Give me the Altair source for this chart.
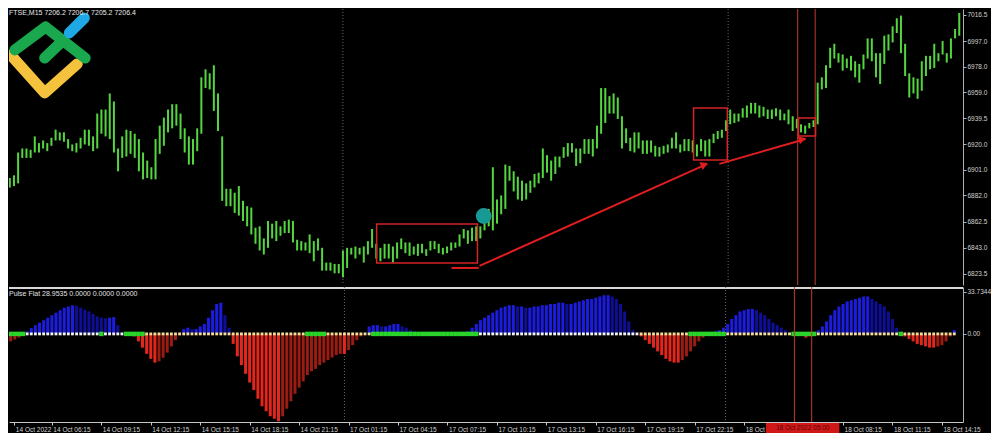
import json
import altair as alt
import pandas as pd

# ---------------- data ----------------
bar_high = [
    6899, 6895, 6895, 6897, 6914, 6917, 6917, 6916, 6926, 6921,
    6923, 6921, 6925, 6931, 6929, 6929, 6924, 6920, 6921, 6925,
    6931, 6931, 6926, 6943, 6946, 6946, 6958, 6952, 6917, 6926,
    6931, 6930, 6928, 6924, 6914, 6908, 6903, 6924, 6934, 6940,
    6946, 6950, 6950, 6943, 6932, 6926, 6924, 6932, 6970, 6976,
    6973, 6979, 6958, 6926, 6887, 6887, 6884, 6889, 6878, 6874,
    6873, 6858, 6859, 6850, 6863, 6861, 6863, 6859, 6863, 6864,
    6863, 6849, 6848, 6847, 6853, 6848, 6850, 6843, 6832, 6832,
    6831, 6831, 6841, 6843, 6843, 6844, 6843, 6844, 6848, 6857,
    6846, 6843, 6846, 6846, 6844, 6847, 6850, 6847, 6847, 6844,
    6846, 6846, 6842, 6848, 6848, 6846, 6843, 6844, 6847, 6847,
    6853, 6857, 6856, 6858, 6859, 6859, 6871, 6872, 6903, 6879,
    6882, 6905, 6904, 6900, 6896, 6893, 6891, 6893, 6898, 6899,
    6917, 6912, 6908, 6911, 6911, 6918, 6921, 6921, 6917, 6917,
    6924, 6924, 6924, 6934, 6962, 6962, 6956, 6958, 6955, 6941,
    6932, 6925, 6929, 6929, 6923, 6923, 6923, 6919, 6918, 6919,
    6920, 6925, 6929, 6920, 6924, 6924, 6923, 6920, 6924, 6923,
    6924, 6928, 6930, 6931, 6938, 6946, 6943, 6943, 6947, 6949,
    6951, 6951, 6949, 6948, 6946, 6946, 6947, 6946, 6943, 6946,
    6941, 6939, 6935, 6934, 6936, 6938, 6966, 6970, 6979, 6992,
    6995, 6988, 6987, 6984, 6986, 6982, 6980, 6987, 6999, 6999,
    6988, 6988, 7001, 7002, 7008, 7014, 7016, 6995, 6973, 6970,
    6969, 6982, 6986, 6986, 6995, 6988, 6997, 6988, 6999, 7006,
    7018,
]
bar_low = [
    6889, 6888, 6888, 6889, 6891, 6910, 6910, 6910, 6914, 6914,
    6917, 6915, 6919, 6923, 6923, 6922, 6917, 6915, 6914, 6917,
    6920, 6919, 6915, 6917, 6928, 6926, 6924, 6914, 6900, 6910,
    6911, 6913, 6910, 6900, 6894, 6895, 6894, 6894, 6913, 6919,
    6929, 6932, 6934, 6924, 6914, 6905, 6905, 6915, 6928, 6962,
    6961, 6945, 6930, 6878, 6874, 6874, 6869, 6867, 6863, 6859,
    6853, 6846, 6841, 6838, 6843, 6850, 6848, 6852, 6854, 6854,
    6847, 6841, 6841, 6841, 6839, 6833, 6841, 6826, 6826, 6826,
    6824, 6824, 6821, 6828, 6838, 6835, 6838, 6832, 6838, 6843,
    6835, 6833, 6835, 6835, 6832, 6835, 6842, 6839, 6837, 6838,
    6837, 6839, 6837, 6841, 6842, 6839, 6838, 6839, 6841, 6843,
    6844, 6850, 6846, 6848, 6848, 6850, 6856, 6859, 6856, 6861,
    6868, 6872, 6893, 6885, 6879, 6878, 6879, 6884, 6888, 6891,
    6895, 6899, 6893, 6898, 6903, 6910, 6911, 6914, 6904, 6906,
    6913, 6913, 6911, 6917, 6928, 6936, 6943, 6943, 6939, 6917,
    6921, 6915, 6914, 6917, 6913, 6913, 6914, 6911, 6911, 6913,
    6914, 6917, 6917, 6914, 6915, 6915, 6914, 6911, 6915, 6911,
    6911, 6921, 6924, 6925, 6930, 6935, 6936, 6937, 6940, 6940,
    6943, 6943, 6940, 6941, 6939, 6939, 6941, 6938, 6938, 6935,
    6930, 6932, 6929, 6928, 6932, 6933, 6935, 6961, 6962, 6977,
    6984, 6981, 6975, 6977, 6975, 6970, 6966, 6976, 6984, 6982,
    6970, 6965, 6980, 6990, 6996, 7003, 6988, 6971, 6955, 6958,
    6954, 6960, 6971, 6976, 6977, 6982, 6987, 6981, 6984, 6999,
    7001,
]
osc_values = [
    -7, -6, -4.5, -3, -0.5, 2, 4.7, 7, 9, 11,
    13, 15, 17, 19, 21, 22, 23, 22.5, 21, 19.5,
    18, 16, 14, 13, 12.5, 13, 13.5, 7, 1, 0.3,
    -0.5, -2, -6, -11, -16, -20, -23, -22, -19, -15,
    -10, -5, -1, 4, 5, 4, 4, 6, 8, 13,
    19, 24, 25, 15, 5, -8, -18, -25, -32, -39,
    -45, -52, -58, -62, -66, -68, -70, -66, -60, -54,
    -48, -43, -38, -33, -30, -28, -25, -23, -21, -19,
    -17, -16, -16, -13, -9, -5, -2, 0.3, 6, 7,
    7, 6, 6, 7, 8, 8, 6, 5, 3, 2,
    1, 0.4, 0.3, 0.3, 0.4, 0.3, 0.3, -0.8, 0.3, 0.3,
    0.4, 0.5, 2, 5, 8, 11, 13, 15, 17, 19,
    21, 22, 23, 23, 22, 22, 21, 21, 22, 22,
    23, 23, 24, 24, 25, 25, 24, 24, 25, 26,
    27, 28, 28, 29, 30, 31, 31, 30, 28, 24,
    18, 10, 3, 0.5, -2, -5, -8, -11, -14, -17,
    -20, -22, -23, -23, -21, -18, -14, -10, -6, -3,
    -1, 1, 2, 3, 5, 8, 12, 15, 18, 19,
    20, 20, 19, 17, 15, 12, 9, 7, 5, 3,
    1, 0.5, 0.3, -1, -3, -2, 0.5, 3, 6, 10,
    15, 19, 22, 24, 26, 27, 28, 29, 30, 30,
    28, 26, 24, 22, 18, 12, 5, 1, -2, -4,
    -6, -8, -9, -10, -11, -11, -10, -9, -6, -2,
    3,
]
dot_kind = list(
    "ggggg"
    "wwwwwwwwwwwwwwwwww"
    "g"
    "wwwww"
    "ggggg"
    "yyyyyyyyyyyyyyyyyyyyyyyyyyyyyyyyyyyyyyy"
    "ggggg"
    "yyyyyyyyyyy"
    "gggggggggggggggggggggggggg"
    "wwwwwwwwwwwwwwwwwwwwwwwwwwwwwwwwwwwwwww"
    "yyyyyyyyyyyy"
    "ggggggggg"
    "yyyyyyyyyyyyyyyy"
    "gggggg"
    "yyyyyyyyyyyyyyyyyyyy"
    "g"
    "yyyyyyyyyyyyy"
)

price_ticks = [7016.5, 6997.0, 6978.0, 6959.0, 6939.5, 6920.0, 6901.0,
               6882.0, 6862.5, 6843.0, 6823.5]
osc_ticks = [33.7344, 0.0, -70.8312]
time_idx = [1.9, 11, 23, 35, 47, 59, 71, 83, 95, 107, 119, 131, 143, 155,
            167, 179, 203, 215, 227]
time_lbl = ["14 Oct 2022", "14 Oct 06:15", "14 Oct 09:15", "14 Oct 12:15",
            "14 Oct 15:15", "14 Oct 18:15", "14 Oct 21:15", "17 Oct 01:15",
            "17 Oct 04:15", "17 Oct 07:15", "17 Oct 10:15", "17 Oct 13:15",
            "17 Oct 16:15", "17 Oct 19:15", "17 Oct 22:15", "18 Oct 02:15",
            "18 Oct 08:15", "18 Oct 11:15", "18 Oct 14:15"]

# annotations (in bar-index / price units)
sep_idx = [82, 174.5]
cross_idx = [191.2, 195.4]
box_x1 = [90.1, 166.2, 191.4]
box_x2 = [114.3, 174.3, 195.5]
box_top = [6860.8, 6947.2, 6939.7]
box_bot = [6831.7, 6908.4, 6926.3]
seg_x1 = [108.1, 114.8, 172.4]
seg_y1 = [6828.0, 6829.5, 6905.5]
seg_x2 = [114.6, 169.5, 193.1]
seg_y2 = [6828.0, 6905.5, 6924.1]
head_x = [168.8, 192.3]
head_y = [6905.0, 6923.8]
head_angle = [66, 74]
marker_x = [115.8]
marker_y = [6866.7]
tag_x = [184.3, 202.1]
tag_text = ["18 Oct 2022 05:00"]

logo_part = ["yel", "yel", "yel", "grn", "grn", "grn", "grn2", "grn2", "blu", "blu"]
logo_x = [2.2, 10.37, 18.2, 3.24, 10.6, 20.1, 10.37, 14.65, 16.3, 19.9]
logo_y = [6986.7, 6958.4, 6980.0, 6990.4, 7007.5, 6984.4, 6984.4, 6997.1, 7003.1, 7014.2]
logo_col = {"yel": "#f4c23c", "grn": "#1aa84f", "grn2": "#1aa84f", "blu": "#1ea8e6"}

header = "FTSE,M15  7206.2 7206.7 7205.2 7206.4"
ind_label = "Pulse Flat 28.9535 0.0000 0.0000 0.0000"

tone_color = {"b1": "#1c1ce0", "b2": "#0e0e96", "r1": "#e4261c", "r2": "#9a1c12"}
dot_color = {"g": "#2ad42a", "w": "#f4f4f4", "y": "#f6de98"}
dot_size = {"g": 20, "w": 8, "y": 8}

# ---------------- tables ----------------
n = len(bar_high)
idx = list(range(n))
prices = pd.DataFrame({"i": idx, "high": bar_high, "low": bar_low})
tones = []
for k, v in enumerate(osc_values):
    prev = osc_values[k - 1] if k > 0 else v
    if v >= 0:
        tones.append("b1" if v >= prev else "b2")
    else:
        tones.append("r1" if v <= prev else "r2")
osc_df = pd.DataFrame({
    "i": idx, "v": osc_values, "zero": [0.0] * n,
    "hcol": [tone_color[t] for t in tones],
    "dcol": [dot_color[d] for d in dot_kind],
    "dsize": [dot_size[d] for d in dot_kind],
})
boxes = pd.DataFrame({"x1": box_x1, "x2": box_x2, "t": box_top, "b": box_bot})
segs = pd.DataFrame({"x1": seg_x1, "y1": seg_y1, "x2": seg_x2, "y2": seg_y2})
heads = pd.DataFrame({"x": head_x, "y": head_y, "a": head_angle})
marker = pd.DataFrame({"x": marker_x, "y": marker_y})
seps = pd.DataFrame({"x": sep_idx})
cross = pd.DataFrame({"x": cross_idx})
logo = pd.DataFrame({"part": logo_part, "x": logo_x, "y": logo_y,
                     "ord": list(range(len(logo_x))),
                     "col": [logo_col[p] for p in logo_part]})
tag = pd.DataFrame({"x1": [tag_x[0]], "x2": [tag_x[1]], "t": tag_text,
                    "xm": [(tag_x[0] + tag_x[1]) / 2]})

# whole drawing must stay inside 984x423 (1000x439 window minus the 8px margin)
W = 954
H_TOP = 276
H_BOT = 135
FONT = "Liberation Sans"
FS = 7
FSA = 6.5
xs = alt.Scale(domain=[1.81, 230.9], nice=False, zero=False)
ys_top = alt.Scale(domain=[6815.3, 7020.9], nice=False, zero=False)
ys_bot = alt.Scale(domain=[-70.6, 37.6], nice=False, zero=False)

ax_top = alt.Axis(orient="right", values=price_ticks, format=".1f", grid=False,
                  domainColor="#b0b0b0", tickColor="#b0b0b0", tickSize=3,
                  labelColor="#d2d2d2", labelFont=FONT, labelFontSize=FSA,
                  labelPadding=1, title=None, labelOverlap=False)
ax_bot_y = alt.Axis(orient="right", values=osc_ticks, grid=False,
                    labelExpr="datum.value == 0 ? '0.00' : format(datum.value, '.4f')",
                    domainColor="#b0b0b0", tickColor="#b0b0b0", tickSize=3,
                    labelColor="#d2d2d2", labelFont=FONT, labelFontSize=FSA,
                    labelPadding=1, title=None, labelOverlap=False)
ax_bot_x = alt.Axis(values=time_idx, grid=False, title=None,
                    labelExpr=f"{json.dumps(time_lbl)}[indexof({json.dumps(time_idx)}, datum.value)]",
                    labelAlign="left", labelFlush=False, labelOverlap=False,
                    labelBaseline="top", labelOffset=1, labelPadding=1,
                    tickSize=3, domainColor="#c8c8c8", tickColor="#c8c8c8",
                    labelColor="#d2d2d2", labelFont=FONT, labelFontSize=FSA)

XT = lambda f: alt.X(f, type="quantitative", scale=xs, axis=None)
YT = lambda f: alt.Y(f, type="quantitative", scale=ys_top, axis=ax_top)

# ---------------- top panel ----------------
t_sep = alt.Chart(seps).mark_rule(color="#6a6a6a", strokeDash=[1, 2], strokeWidth=1).encode(x=XT("x"))
t_bars = alt.Chart(prices).mark_rule(color="#55d641", strokeWidth=2, clip=True).encode(
    x=XT("i"), y=YT("high"), y2="low")
t_cross = alt.Chart(cross).mark_rule(color="#c23a30", strokeWidth=1).encode(x=XT("x"))
t_boxes = alt.Chart(boxes).mark_rect(fillOpacity=0, stroke="#d42424", strokeWidth=1.5).encode(
    x=XT("x1"), x2="x2", y=YT("t"), y2="b")
t_segs = alt.Chart(segs).mark_rule(color="#e01e1e", strokeWidth=2).encode(
    x=XT("x1"), y=YT("y1"), x2="x2", y2="y2")
t_heads = alt.Chart(heads).mark_point(shape="triangle-up", filled=True, color="#e01e1e",
                                      size=70, opacity=1).encode(
    x=XT("x"), y=YT("y"), angle=alt.Angle("a:Q", scale=None))
t_marker = alt.Chart(marker).mark_circle(color="#179a96", size=250, opacity=1).encode(
    x=XT("x"), y=YT("y"))
t_logo = alt.Chart(logo).mark_line(strokeWidth=11, strokeCap="round", strokeJoin="round",
                                   clip=True).encode(
    x=XT("x"), y=YT("y"), detail="part:N", order="ord:Q",
    color=alt.Color("col:N", scale=None))
t_head = alt.Chart(pd.DataFrame({"t": [header]})).mark_text(
    align="left", baseline="top", font=FONT, fontSize=FS, color="#e8e8e8").encode(
    x=alt.value(0), y=alt.value(0), text="t:N")

top = alt.layer(t_sep, t_bars, t_cross, t_boxes, t_segs, t_heads, t_marker, t_logo, t_head
                ).properties(width=W, height=H_TOP)

# ---------------- bottom panel ----------------
XB = lambda f: alt.X(f, type="quantitative", scale=xs, axis=ax_bot_x)
YB = lambda f: alt.Y(f, type="quantitative", scale=ys_bot, axis=ax_bot_y)

b_border = alt.Chart(pd.DataFrame({"k": [0]})).mark_rule(color="#d8d8d8", strokeWidth=2).encode(
    y=alt.value(1))
b_sep = alt.Chart(seps).mark_rule(color="#6a6a6a", strokeDash=[1, 2], strokeWidth=1).encode(x=XB("x"))
b_hist = alt.Chart(osc_df).mark_bar(width=3, clip=True).encode(
    x=XB("i"), y=YB("v"), y2="zero", color=alt.Color("hcol:N", scale=None))
b_dots = alt.Chart(osc_df).mark_square(opacity=1, clip=True).encode(
    x=XB("i"), y=YB("zero"),
    color=alt.Color("dcol:N", scale=None),
    size=alt.Size("dsize:Q", scale=None))
b_cross = alt.Chart(cross).mark_rule(color="#c23a30", strokeWidth=1).encode(x=XB("x"))
b_tag = alt.Chart(tag).mark_rect(color="#d01818").encode(
    x=XB("x1"), x2="x2", y=alt.value(H_BOT + 1), y2=alt.value(H_BOT + 11))
b_tag_t = alt.Chart(tag).mark_text(font=FONT, fontSize=6.5, color="#5a0808",
                                   baseline="top").encode(
    x=XB("xm"), y=alt.value(H_BOT + 3), text="t:N")
b_label = alt.Chart(pd.DataFrame({"t": [ind_label]})).mark_text(
    align="left", baseline="middle", font=FONT, fontSize=FS, color="#e0e0e0").encode(
    x=alt.value(0), y=alt.value(7), text="t:N")

bottom = alt.layer(b_border, b_sep, b_hist, b_dots, b_cross, b_tag, b_tag_t, b_label
                   ).properties(width=W, height=H_BOT)

chart = alt.vconcat(top, bottom, spacing=0).resolve_scale(
    x="independent", y="independent"
).properties(
    background="#000000",
    padding=0,
).configure_view(stroke=None)

chart.save("out.html", embed_options={"renderer": "svg", "actions": False})
